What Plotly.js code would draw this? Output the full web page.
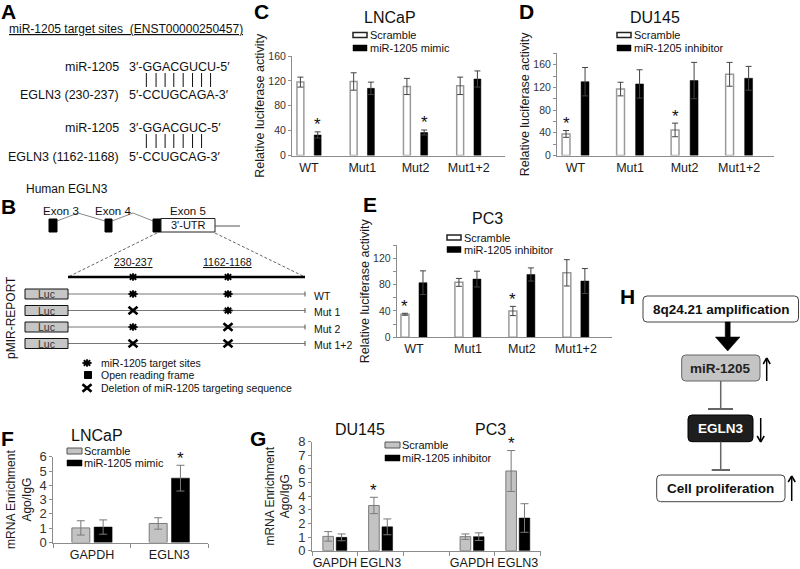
<!DOCTYPE html>
<html><head><meta charset="utf-8">
<script src="https://cdn.plot.ly/plotly-3.0.1.min.js"></script>
<style>body{margin:0;background:#fff}</style>
</head><body><div id="chart" style="width:800px;height:569px"></div>
<script>
// ---------------- DATA ----------------
const lucCategories = ['WT', 'Mut1', 'Mut2', 'Mut1+2'];
// C: LNCaP luciferase
const lncapScramble = [118, 119, 111, 112];
const lncapScrambleErr = [8, 14, 13, 14];
const lncapMimic = [33, 108, 37, 123];
const lncapMimicErr = [5, 10, 4, 13];
const lncapMimicSig = ['*', '', '*', ''];
// D: DU145 luciferase
const du145Scramble = [38, 117, 45, 143];
const du145ScrambleErr = [6, 12, 12, 21];
const du145Inhibitor = [130, 126, 132, 136];
const du145InhibitorErr = [25, 25, 32, 21];
const du145ScrambleSig = ['*', '', '*', ''];
// E: PC3 luciferase
const pc3Scramble = [35, 83.5, 40, 98];
const pc3ScrambleErr = [1.5, 6, 7, 20];
const pc3Inhibitor = [83, 88.5, 95.5, 85.5];
const pc3InhibitorErr = [18, 12, 10, 19];
const pc3ScrambleSig = ['*', '', '*', ''];
// F/G: Ago RIP
const ripGenes = ['GAPDH', 'EGLN3'];
const ripLncapScramble = [1.02, 1.33];
const ripLncapScrambleErr = [0.5, 0.4];
const ripLncapMimic = [1.08, 4.5];
const ripLncapMimicErr = [0.5, 0.9];
const ripLncapMimicSig = ['', '*'];
const ripDu145Scramble = [1.05, 3.32];
const ripDu145ScrambleErr = [0.35, 0.6];
const ripDu145Inhibitor = [0.98, 1.75];
const ripDu145InhibitorErr = [0.25, 0.58];
const ripDu145ScrambleSig = ['', '*'];
const ripPc3Scramble = [1.03, 5.85];
const ripPc3ScrambleErr = [0.2, 1.5];
const ripPc3Inhibitor = [1.03, 2.4];
const ripPc3InhibitorErr = [0.28, 1.05];
const ripPc3ScrambleSig = ['', '*'];

// ---------------- HELPERS ----------------
const W = 800, H = 569;
const px = x => x / W, py = y => 1 - y / H;
const FONT = 'Liberation Sans, Arial, Helvetica, sans-serif';
const ann = [], shapes = [];
function txt(x, y, text, size, o = {}) {
  ann.push({xref: 'paper', yref: 'paper', x: px(x), y: py(y), text, showarrow: false,
    font: {family: FONT, size, color: o.color || '#111'}, xanchor: o.xa || 'center',
    yanchor: 'middle', textangle: o.angle || 0, borderpad: 0});
}
function line(x0, y0, x1, y1, color, width, dash) {
  shapes.push({type: 'line', xref: 'paper', yref: 'paper', x0: px(x0), y0: py(y0), x1: px(x1), y1: py(y1),
    line: {color, width, dash: dash || 'solid'}});
}
function rect(x0, y0, x1, y1, fill, lc, lw) {
  shapes.push({type: 'rect', xref: 'paper', yref: 'paper', x0: px(x0), y0: py(y0), x1: px(x1), y1: py(y1),
    fillcolor: fill, line: {color: lc, width: lw}});
}
function pathPx(cmds, fill, lc, lw) {
  const d = cmds.map(c => c[0] + (c.length > 1 ? c.slice(1).map((v, i) => i % 2 === 0 ? px(v) : py(v)).join(',') : '')).join(' ');
  shapes.push({type: 'path', xref: 'paper', yref: 'paper', path: d, fillcolor: fill, line: {color: lc, width: lw}});
}
function roundRect(x0, y0, x1, y1, r, fill, lc, lw) {
  pathPx([['M', x0 + r, y0], ['L', x1 - r, y0], ['Q', x1, y0, x1, y0 + r], ['L', x1, y1 - r], ['Q', x1, y1, x1 - r, y1],
    ['L', x0 + r, y1], ['Q', x0, y1, x0, y1 - r], ['L', x0, y0 + r], ['Q', x0, y0, x0 + r, y0], ['Z']], fill, lc, lw);
}
function starSym(cx, cy) {
  for (let a = 0; a < 180; a += 45) {
    const r = a * Math.PI / 180, dx = 4.6 * Math.cos(r), dy = 3.8 * Math.sin(r);
    line(cx - dx, cy - dy, cx + dx, cy + dy, '#000', 1.8);
  }
  shapes.push({type: 'circle', xref: 'paper', yref: 'paper', x0: px(cx - 2.6), x1: px(cx + 2.6), y0: py(cy - 2.4), y1: py(cy + 2.4),
    fillcolor: '#000', line: {color: '#000', width: 0}});
}
function xSym(cx, cy) {
  line(cx - 4.5, cy - 3.8, cx + 4.5, cy + 3.8, '#000', 2.6);
  line(cx - 4.5, cy + 3.8, cx + 4.5, cy - 3.8, '#000', 2.6);
}
function arrowThin(x, yTail, yTip) {
  const s = yTip < yTail ? 1 : -1;
  line(x, yTail, x, yTip, '#000', 1.5);
  line(x - 3.5, yTip + s * 6, x, yTip, '#000', 1.5);
  line(x + 3.5, yTip + s * 6, x, yTip, '#000', 1.5);
}

// ---------------- TRACES ----------------
const traces = [];
function bars(xs, ys, errs, ax, fill, lc, lw, offset, width, ec, cap) {
  traces.push({type: 'bar', x: xs, y: ys, xaxis: 'x' + ax, yaxis: 'y' + ax, offset, width,
    marker: {color: fill, line: {color: lc, width: lw}},
    error_y: {type: 'data', array: errs, visible: true, color: ec, thickness: 1, width: cap},
    showlegend: false, hoverinfo: 'skip'});
}
function sig(xs, ys, errs, marks, ax, dx) {
  marks.forEach((m, i) => {
    if (!m) return;
    ann.push({xref: 'x' + ax, yref: 'y' + ax, x: xs[i] + dx, y: ys[i] + errs[i], text: m, showarrow: false,
      font: {family: FONT, size: 17, color: '#111'}, yanchor: 'middle', yshift: 7});
  });
}
const lucX = lucCategories.map((_, i) => i);
// C
bars(lucX, lncapScramble, lncapScrambleErr, '', '#fff', '#9a9a9a', 1.5, -0.227, 0.13, '#444', 3);
bars(lucX, lncapMimic, lncapMimicErr, '', '#000', '#000', 0.5, 0.097, 0.13, '#444', 3);
sig(lucX, lncapMimic, lncapMimicErr, lncapMimicSig, '', 0.162);
// D
bars(lucX, du145Scramble, du145ScrambleErr, '2', '#fff', '#9a9a9a', 1.5, -0.247, 0.145, '#444', 3);
bars(lucX, du145Inhibitor, du145InhibitorErr, '2', '#000', '#000', 0.5, 0.102, 0.145, '#444', 3);
sig(lucX, du145Scramble, du145ScrambleErr, du145ScrambleSig, '2', -0.174);
// E
bars(lucX, pc3Scramble, pc3ScrambleErr, '3', '#fff', '#9a9a9a', 1.5, -0.241, 0.148, '#444', 3);
bars(lucX, pc3Inhibitor, pc3InhibitorErr, '3', '#000', '#000', 0.5, 0.093, 0.148, '#444', 3);
sig(lucX, pc3Scramble, pc3ScrambleErr, pc3ScrambleSig, '3', -0.167);
// F
const ripX = ripGenes.map((_, i) => i);
bars(ripX, ripLncapScramble, ripLncapScrambleErr, '4', '#c3c3c3', '#7a7a7a', 1, -0.26, 0.232, '#7a7a7a', 4);
bars(ripX, ripLncapMimic, ripLncapMimicErr, '4', '#000', '#000', 0.5, 0.028, 0.232, '#7a7a7a', 4);
sig(ripX, ripLncapMimic, ripLncapMimicErr, ripLncapMimicSig, '4', 0.144);
// G
const ripXPc3 = ripGenes.map((_, i) => i + 3);
bars(ripX, ripDu145Scramble, ripDu145ScrambleErr, '5', '#c3c3c3', '#7a7a7a', 1, -0.262, 0.232, '#7a7a7a', 4);
bars(ripX, ripDu145Inhibitor, ripDu145InhibitorErr, '5', '#000', '#000', 0.5, 0.03, 0.232, '#7a7a7a', 4);
bars(ripXPc3, ripPc3Scramble, ripPc3ScrambleErr, '5', '#c3c3c3', '#7a7a7a', 1, -0.262, 0.232, '#7a7a7a', 4);
bars(ripXPc3, ripPc3Inhibitor, ripPc3InhibitorErr, '5', '#000', '#000', 0.5, 0.03, 0.232, '#7a7a7a', 4);
sig(ripX, ripDu145Scramble, ripDu145ScrambleErr, ripDu145ScrambleSig, '5', -0.146);
sig(ripXPc3, ripPc3Scramble, ripPc3ScrambleErr, ripPc3ScrambleSig, '5', -0.146);

// ---------------- AXES ----------------
const AX = '#8c8c8c';
function xax(d0, d1, r, anchor, tv, tt, minorVals) {
  const a = {domain: [px(d0), px(d1)], range: r, anchor, tickmode: 'array', tickvals: tv, ticktext: tt,
    ticks: '', showline: true, linecolor: AX, linewidth: 1, showgrid: false, zeroline: false, fixedrange: true,
    tickfont: {family: FONT, size: 12.5, color: '#1a1a1a'}};
  if (minorVals) a.minor = {tickmode: 'array', tickvals: minorVals, ticks: 'outside', ticklen: 4, tickcolor: AX, tickwidth: 1};
  return a;
}
function yax(top, bottom, r, dtick, anchor, title, tfs, standoff, minorD, tickSize) {
  const a = {domain: [py(bottom), py(top)], range: r, dtick, tick0: 0, anchor, ticks: 'outside', ticklen: 3,
    tickcolor: AX, showline: true, linecolor: AX, linewidth: 1, showgrid: false, zeroline: false, fixedrange: true,
    tickfont: {family: FONT, size: tickSize || 10.5, color: '#333'},
    title: {text: title, font: {family: FONT, size: tfs, color: '#1a1a1a'}, standoff}};
  if (minorD) a.minor = {dtick: minorD, ticks: 'outside', ticklen: 3, tickcolor: AX};
  return a;
}
const lucTitle = 'Relative luciferase activity';
const ripTitle = 'mRNA Enrichment<br>Ago/IgG';

// ---------------- PANEL TEXT & DIAGRAMS ----------------
[['A', 8, 12], ['B', 8, 206], ['C', 261, 12], ['D', 526, 12], ['E', 370, 204], ['F', 7, 438], ['G', 258, 438], ['H', 627, 296]]
  .forEach(l => txt(l[1], l[2], '<b>' + l[0] + '</b>', 21, {color: '#000'}));

txt(390, 17, 'LNCaP', 16);
txt(655, 18, 'DU145', 16);
txt(487, 218, 'PC3', 16);
txt(97, 435, 'LNCaP', 16);
txt(360, 429, 'DU145', 16);
txt(490, 429, 'PC3', 16);

function legend(x, y1, y2, name1, name2, gray) {
  if (gray) rect(x, y1 - 3, x + 15, y1 + 3, '#c3c3c3', '#555', 1);
  else rect(x, y1 - 2.5, x + 14, y1 + 2.5, '#fff', '#222', 1.5);
  rect(x, y2 - 3, x + (gray ? 15 : 14), y2 + 3, '#000', '#000', 0.5);
  txt(x + 16, y1, name1, 11, {xa: 'left'});
  txt(x + 16, y2, name2, 11, {xa: 'left'});
}
legend(353, 35, 48, 'Scramble', 'miR-1205 mimic');
legend(617, 35, 48, 'Scramble', 'miR-1205 inhibitor');
legend(447, 237.5, 249.5, 'Scramble', 'miR-1205 inhibitor');
legend(67, 451, 463, 'Scramble', 'miR-1205 mimic', true);
legend(385, 445, 458, 'Scramble', 'miR-1205 inhibitor', true);

// Panel A
txt(8, 29, '<u>miR-1205 target sites  (ENST00000250457)</u>', 12, {xa: 'left'});
const seqFs = 12.5, seqX = 128;
txt(120, 67, 'miR-1205', 12.5, {xa: 'right'});
txt(seqX, 67, '3\u2032-GGACGUCU-5\u2032', seqFs, {xa: 'left'});
txt(120, 95, 'EGLN3 (230-237)', 12.5, {xa: 'right'});
txt(seqX, 95, '5\u2032-CCUGCAGA-3\u2032', seqFs, {xa: 'left'});
txt(120, 128, 'miR-1205', 12.5, {xa: 'right'});
txt(seqX, 128, '3\u2032-GGACGUC-5\u2032', seqFs, {xa: 'left'});
txt(120, 157, 'EGLN3 (1162-1168)', 12.5, {xa: 'right'});
txt(seqX, 157, '5\u2032-CCUGCAG-3\u2032', seqFs, {xa: 'left'});
const EM = {G: 0.778, A: 0.667, C: 0.722, U: 0.722};
function pairBars(seq, yTop, yBot) {
  let x = seqX + (0.556 + 0.19 + 0.333) * seqFs;
  for (const ch of seq) {
    const w = EM[ch] * seqFs;
    line(x + w / 2, yTop, x + w / 2, yBot, '#111', 1);
    x += w;
  }
}
pairBars('GGACGUCU', 73, 87);
pairBars('GGACGUC', 134, 148);

// Panel B
txt(25, 189, 'Human EGLN3', 12, {xa: 'left'});
txt(61, 211, 'Exon 3', 11.5);
txt(113, 211, 'Exon 4', 11.5);
txt(188, 211, 'Exon 5', 11.5);
line(57, 221, 78, 213, '#888', 1); line(78, 213, 105, 221, '#888', 1);
line(112, 221, 133, 213, '#888', 1); line(133, 213, 153, 221, '#888', 1);
rect(49, 219, 57, 232, '#000', '#000', 1);
rect(105, 219, 112, 232, '#000', '#000', 1);
rect(153, 219, 161, 232, '#000', '#000', 1);
rect(161, 218.5, 215, 232, '#fff', '#222', 1);
txt(188, 225.5, "3'-UTR", 11);
line(215, 226, 240, 226, '#555', 1);
line(157, 233, 68, 277, '#666', 1, '3px,2px');
line(215, 233, 305, 277, '#666', 1, '3px,2px');
line(68, 277, 305, 277, '#000', 2.5);
txt(133, 262, '<u>230-237</u>', 10.5);
txt(228, 262, '<u>1162-1168</u>', 10.5);
starSym(133, 277); starSym(228, 277);
const rowsY = [294, 310.5, 327, 343.5];
const rowNames = ['WT', 'Mut 1', 'Mut 2', 'Mut 1+2'];
const rowSites = [['s', 's'], ['x', 's'], ['s', 'x'], ['x', 'x']];
rowsY.forEach((y, i) => {
  line(68, y, 305, y, '#777', 1);
  line(305, y - 2.5, 305, y + 2.5, '#555', 1);
  rect(25, y - 5, 68, y + 5, '#c6c6c6', '#111', 1);
  txt(46.5, y, 'Luc', 10.5, {color: '#333'});
  txt(313, y + 1.5, rowNames[i], 10.5, {xa: 'left'});
  [133, 228].forEach((sx, j) => rowSites[i][j] === 's' ? starSym(sx, y) : xSym(sx, y));
});
txt(11, 318, 'pMIR-REPORT', 12, {angle: -90});
starSym(87, 363);
rect(84.5, 371.5, 91.5, 378.5, '#000', '#000', 1);
xSym(87, 388);
txt(100, 363, 'miR-1205 target sites', 10.5, {xa: 'left'});
txt(100, 375, 'Open reading frame', 10.5, {xa: 'left'});
txt(100, 388, 'Deletion of miR-1205 targeting sequence', 10.5, {xa: 'left'});

// Panel H
roundRect(643, 296, 798.5, 322, 4, '#fff', '#444', 1);
txt(721, 309, '<b>8q24.21 amplification</b>', 13.5, {color: '#111'});
pathPx([['M', 725.2, 322], ['L', 730.2, 322], ['L', 730.2, 337], ['L', 740, 337], ['L', 727.7, 351], ['L', 715.4, 337], ['L', 725.2, 337], ['Z']], '#000', '#000', 0.5);
roundRect(681.7, 355, 760, 381, 4, '#c4c4c4', '#666', 1);
txt(720.7, 368.3, '<b>miR-1205</b>', 13.5, {color: '#222'});
arrowThin(766.7, 381, 358);
line(720.7, 381, 720.7, 409, '#666', 1.5);
line(708, 409, 733, 409, '#666', 2);
roundRect(688, 415, 753, 441.7, 4, '#1e1e1e', '#000', 1);
txt(720.7, 428.3, '<b>EGLN3</b>', 13.5, {color: '#fff'});
arrowThin(760.7, 418, 442);
line(720.7, 441.7, 720.7, 470, '#666', 1.5);
line(711.7, 470, 730, 470, '#666', 2);
roundRect(656.7, 475, 785, 501.7, 4, '#fff', '#444', 1);
txt(720.7, 488.3, '<b>Cell proliferation</b>', 13.5, {color: '#111'});
arrowThin(791.7, 501, 476);

// ---------------- LAYOUT ----------------
const layout = {
  width: W, height: H, margin: {l: 0, r: 0, t: 0, b: 0}, paper_bgcolor: '#fff', plot_bgcolor: 'rgba(0,0,0,0)',
  barmode: 'overlay', showlegend: false, font: {family: FONT, color: '#111'},
  xaxis: xax(292, 505, [-0.32, 3.68], 'y', lucX, lucCategories),
  yaxis: yax(56, 155.5, [0, 160], 40, 'x', lucTitle, 12.5, 0),
  xaxis2: xax(557, 774, [-0.34, 3.64], 'y2', lucX, lucCategories),
  yaxis2: yax(53.3, 155.5, [0, 180], 40, 'x2', lucTitle, 12.5, 0, 20),
  xaxis3: xax(396.7, 612, [-0.32, 3.67], 'y3', lucX, lucCategories),
  yaxis3: yax(245.2, 337.3, [0, 140], 40, 'x3', lucTitle, 12.5, 0, 20),
  xaxis4: xax(53.3, 208, [-0.5, 1.5], 'y4', ripX, ripGenes, [-0.5, 0.5, 1.5]),
  yaxis4: yax(456.7, 542.5, [0, 6], 1, 'x4', ripTitle, 12, 5, null, 13),
  xaxis5: xax(312, 540.7, [-0.5, 4.5], 'y5', ripX.concat(ripXPc3), ripGenes.concat(ripGenes), [-0.5, 0.5, 1.5, 2.5, 3.5, 4.5]),
  yaxis5: yax(441.7, 550.7, [0, 8], 1, 'x5', ripTitle, 12, 5, null, 13),
  annotations: ann, shapes: shapes
};
Plotly.newPlot('chart', traces, layout, {displayModeBar: false, staticPlot: true});
</script></body></html>
